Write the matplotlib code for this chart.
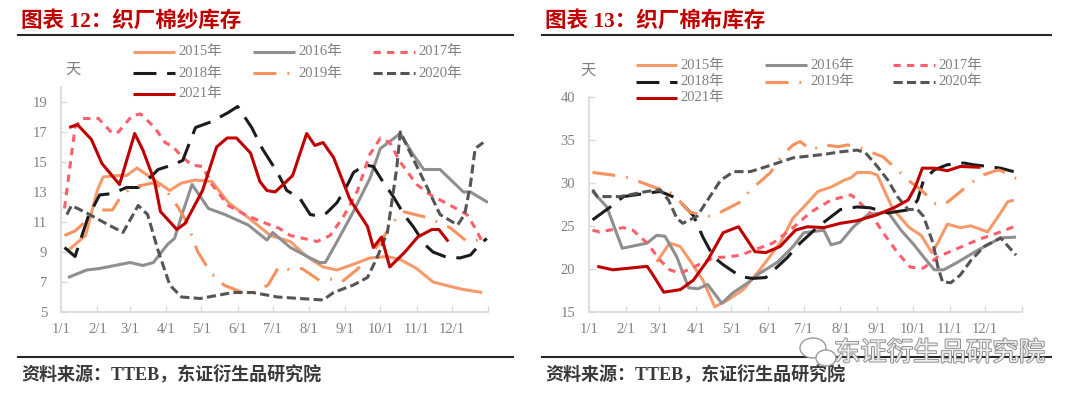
import matplotlib
matplotlib.use("Agg")
import matplotlib.pyplot as plt
import matplotlib.patheffects as pe
from matplotlib.lines import Line2D
from matplotlib.patches import Ellipse

plt.rcParams['font.family'] = ['Liberation Serif', 'Noto Sans CJK SC', 'DejaVu Sans']

# ---------------------------------------------------------------
# data: day of year (1/1 = 0) and inventory days
# ---------------------------------------------------------------
years = ['2015', '2016', '2017', '2018', '2019', '2020', '2021']
month_days = [0, 31, 59, 90, 120, 151, 181, 212, 243, 273, 304, 334]
month_labels = ['1/1', '2/1', '3/1', '4/1', '5/1', '6/1',
                '7/1', '8/1', '9/1', '10/1', '11/1', '12/1']

# chart 12: yarn inventory at weaving mills
yarn_2015_day = [6, 21, 25, 31, 36, 49, 56, 65, 78, 93, 103, 115, 129, 143, 160, 179, 196, 210,
                 224, 236, 247, 264, 279, 290, 304, 318, 333, 344, 360]
yarn_2015_val = [9.1, 10.1, 11.3, 13.1, 14.0, 14.1, 14.1, 14.6, 13.9, 13.1, 13.6, 13.8, 13.7, 12.3,
                 11.3, 10.1, 9.7, 8.7, 8.0, 7.8, 8.1, 8.6, 8.7, 8.5, 7.9, 7.0, 6.7, 6.5, 6.3]

yarn_2016_day = [6, 22, 33, 59, 70, 79, 91, 97, 103, 112, 126, 140, 160, 176, 181, 196, 213, 221,
                 226, 236, 250, 264, 273, 290, 301, 310, 324, 344, 350, 365]
yarn_2016_val = [7.3, 7.8, 7.9, 8.3, 8.1, 8.3, 9.5, 9.9, 11.4, 13.5, 11.9, 11.5, 10.8, 9.8, 10.3,
                 9.3, 8.6, 8.3, 8.3, 9.7, 11.7, 13.9, 15.9, 16.9, 15.5, 14.5, 14.5, 13.0, 13.0, 12.3]

yarn_2017_day = [3, 12, 18, 32, 44, 49, 61, 68, 80, 89, 96, 104, 112, 121, 129, 143, 157, 172,
                 186, 196, 219, 230, 241, 253, 264, 273, 281, 290, 304, 316, 333, 347, 354, 360]
yarn_2017_val = [11.9, 17.3, 17.9, 17.9, 16.9, 17.0, 18.1, 18.2, 17.3, 16.3, 16.0, 15.3, 14.8,
                 14.7, 13.5, 12.1, 11.5, 11.0, 10.6, 10.1, 9.7, 10.1, 11.3, 13.0, 15.5, 16.6,
                 16.3, 15.0, 13.5, 12.8, 12.1, 11.5, 10.6, 9.7]

yarn_2018_day = [3, 12, 23, 33, 44, 56, 66, 78, 83, 95, 104, 115, 129, 143, 151, 163, 172, 185,
                 193, 204, 213, 220, 227, 236, 245, 250, 260, 267, 275, 284, 294, 301, 311, 318,
                 328, 341, 350, 358, 364]
yarn_2018_val = [9.3, 8.7, 11.3, 12.8, 12.9, 13.3, 13.3, 14.1, 14.5, 14.8, 15.1, 17.3, 17.7,
                 18.3, 18.7, 17.3, 15.9, 14.3, 13.1, 12.6, 11.5, 11.4, 11.6, 12.3, 13.5, 14.3,
                 14.8, 14.7, 13.7, 12.7, 11.4, 10.7, 9.5, 9.0, 8.7, 8.6, 8.8, 9.5, 9.9]

yarn_2019_day = [3, 12, 32, 44, 52, 61, 78, 89, 100, 109, 112, 117, 129, 134, 139, 155, 162, 177,
                 186, 196, 206, 221, 232, 240, 254, 262, 274, 284, 292, 313, 322, 333, 347, 357]
yarn_2019_val = [10.1, 10.4, 11.8, 11.8, 12.8, 13.3, 13.6, 13.2, 12.0, 10.8, 10.0, 9.0, 7.5,
                 7.3, 6.8, 6.3, 6.2, 6.8, 8.0, 7.8, 7.9, 7.1, 7.2, 7.0, 7.9, 8.5, 9.8, 11.0,
                 11.7, 11.3, 11.0, 10.6, 9.7, 9.8]

yarn_2020_day = [5, 9, 22, 36, 53, 66, 74, 83, 93, 103, 119, 133, 147, 164, 185, 204, 224, 233,
                 250, 262, 270, 279, 287, 290, 298, 313, 324, 339, 345, 350, 354, 361]
yarn_2020_val = [11.5, 12.1, 11.6, 11.0, 10.3, 12.1, 11.5, 9.1, 6.8, 6.0, 5.9, 6.1, 6.3, 6.3,
                 6.0, 5.9, 5.8, 6.3, 6.8, 7.3, 8.6, 10.3, 14.6, 17.0, 15.7, 13.3, 11.5, 10.8,
                 11.5, 13.5, 15.9, 16.3]

yarn_2021_day = [7, 14, 26, 35, 50, 63, 70, 80, 85, 99, 106, 121, 133, 142, 150, 162, 170, 176,
                 183, 190, 198, 210, 217, 224, 233, 247, 262, 267, 274, 281, 294, 305, 317, 323, 331]
yarn_2021_val = [17.3, 17.5, 16.5, 14.9, 13.5, 16.9, 15.8, 13.7, 11.7, 10.5, 10.9, 13.1, 16.0,
                 16.6, 16.6, 15.6, 13.7, 13.1, 13.0, 13.5, 14.1, 16.9, 16.1, 16.3, 15.3, 12.5,
                 10.7, 9.3, 10.0, 8.0, 9.0, 10.0, 10.5, 10.5, 9.7]

# chart 13: grey cloth inventory at weaving mills
cloth_2015_day = [57, 68, 77, 85, 96, 106, 117, 130, 144, 161, 172, 181, 193, 204, 215, 221, 226,
                  237, 243, 256, 270, 280, 289, 294, 302, 313, 322, 336, 345, 353, 358]
cloth_2015_val = [20.8, 23.0, 22.6, 21.0, 18.7, 15.6, 16.4, 17.6, 19.9, 23.0, 25.9, 27.2, 29.0,
                  29.5, 30.3, 30.6, 31.2, 31.2, 30.9, 27.0, 24.8, 23.9, 21.9, 23.0, 25.2, 24.8,
                  25.0, 24.3, 26.1, 27.8, 28.0]

cloth_2016_day = [3, 15, 28, 49, 57, 64, 74, 84, 92, 100, 112, 121, 134, 144, 159, 172, 181, 198,
                  204, 212, 223, 235, 252, 263, 274, 282, 291, 299, 311, 328, 347, 360]
cloth_2016_val = [29.0, 27.2, 22.4, 23.0, 23.9, 23.8, 21.4, 17.8, 17.7, 18.2, 16.0, 17.2, 18.4,
                  19.5, 20.8, 22.6, 24.2, 24.5, 22.8, 23.1, 24.9, 26.3, 26.6, 24.5, 22.8, 21.4,
                  19.9, 19.9, 20.8, 22.2, 23.6, 23.7]

cloth_2017_day = [3, 9, 29, 37, 49, 60, 68, 77, 88, 105, 117, 128, 139, 155, 172, 187, 204, 221,
                  226, 237, 248, 260, 271, 282, 294, 311, 328, 345, 360]
cloth_2017_val = [24.5, 24.3, 24.8, 24.5, 23.0, 21.0, 19.9, 19.5, 20.2, 21.3, 21.4, 21.6, 22.2,
                  23.0, 24.8, 26.6, 28.0, 28.6, 28.0, 26.5, 24.2, 21.9, 20.2, 20.1, 21.4, 22.4,
                  23.4, 24.2, 25.0]

cloth_2018_day = [3, 18, 29, 49, 60, 74, 88, 96, 105, 113, 128, 138, 149, 167, 178, 193, 212, 226,
                  237, 252, 271, 277, 282, 291, 302, 316, 324, 336, 347, 358]
cloth_2018_val = [25.7, 27.2, 28.4, 28.8, 29.0, 28.2, 26.2, 23.7, 21.4, 20.5, 19.1, 18.9, 19.0,
                  21.3, 23.0, 24.9, 26.9, 27.2, 27.1, 26.5, 26.9, 28.0, 30.3, 31.5, 32.1, 32.3,
                  32.1, 31.9, 31.7, 31.3]

cloth_2019_day = [3, 20, 33, 43, 57, 66, 77, 85, 102, 111, 128, 136, 144, 153, 163, 172, 178, 187,
                  198, 210, 218, 226, 237, 248, 260, 269, 277, 286, 291, 299, 308, 322, 332, 345,
                  353, 360]
cloth_2019_val = [31.2, 30.9, 30.6, 30.1, 29.4, 29.2, 27.8, 26.6, 26.1, 26.6, 27.8, 29.2, 30.1,
                  31.2, 33.2, 34.4, 34.8, 33.8, 34.4, 34.2, 34.4, 34.2, 33.6, 33.0, 31.5, 30.3,
                  29.5, 28.4, 27.6, 27.4, 28.4, 30.0, 30.9, 31.5, 31.1, 30.5]

cloth_2020_day = [3, 7, 26, 49, 60, 67, 74, 79, 91, 100, 111, 122, 136, 150, 172, 198, 212, 226,
                  233, 243, 252, 260, 269, 277, 282, 290, 294, 298, 305, 313, 322, 333, 347, 360]
cloth_2020_val = [29.2, 28.4, 28.4, 29.0, 29.2, 28.0, 25.9, 25.3, 26.1, 28.0, 30.3, 31.3, 31.3,
                  31.9, 32.9, 33.3, 33.6, 33.8, 33.5, 31.9, 30.3, 28.4, 26.9, 26.9, 26.1, 23.0,
                  20.3, 18.5, 18.4, 19.3, 21.0, 22.6, 23.6, 21.6]

cloth_2021_day = [7, 20, 49, 53, 63, 77, 88, 100, 113, 126, 140, 149, 161, 174, 184, 198, 212,
                  226, 243, 257, 269, 275, 281, 291, 302, 313, 330]
cloth_2021_val = [20.3, 19.9, 20.3, 19.5, 17.3, 17.6, 18.7, 21.0, 24.2, 24.9, 22.0, 21.9, 22.6,
                  24.5, 24.9, 24.8, 25.3, 25.6, 26.3, 27.1, 28.0, 29.5, 31.7, 31.7, 31.4, 31.9,
                  31.8]

# ---------------------------------------------------------------
# styles
# ---------------------------------------------------------------
LW = 2.2
STYLE = {
    '2015': dict(color='#F79A6B', dashes=()),
    '2016': dict(color='#8F8F8F', dashes=()),
    '2017': dict(color='#FF5F6B', dashes=(2.4, 2.0)),
    '2018': dict(color='#1C1C1C', dashes=(7.5, 3.5)),
    '2019': dict(color='#F7925E', dashes=(7.5, 3.6, 0.6, 3.6)),
    '2020': dict(color='#555555', dashes=(3.0, 1.4)),
    '2021': dict(color='#C00000', dashes=()),
}
AXIS_GREY = '#D9D9D9'
TEXT_GREY = '#808080'
TITLE_RED = '#C00000'

W, H = 1080, 398


def fx(px):
    return px / W


def fy(py):
    return 1 - py / H


def style_kw(year):
    s = STYLE[year]
    kw = dict(color=s['color'], lw=LW, solid_joinstyle='round', solid_capstyle='butt')
    if s['dashes']:
        kw['dashes'] = s['dashes']
    return kw


def draw_panel(ax, series, ylim, yticks):
    for year, (days, vals) in zip(years, series):
        ax.plot(days, vals, **style_kw(year))
    ax.set_xlim(0, 365)
    ax.set_ylim(*ylim)
    ax.set_yticks(yticks)
    ax.set_xticks(month_days + [365])
    ax.set_xticklabels(month_labels + [''])
    for side in ['top', 'right']:
        ax.spines[side].set_visible(False)
    for side in ['left', 'bottom']:
        ax.spines[side].set_color(AXIS_GREY)
        ax.spines[side].set_linewidth(1.2)
    ax.tick_params(direction='in', length=4, width=1, color=AXIS_GREY,
                   labelcolor=TEXT_GREY, labelsize=10.5, pad=10)
    ax.tick_params(axis='x', pad=8)
    ax.patch.set_alpha(0)


def draw_legend(fig, cols, rows):
    for i, year in enumerate(years):
        x0, x1 = cols[i % 3]
        y = rows[i // 3]
        fig.add_artist(Line2D([fx(x0), fx(x1)], [fy(y), fy(y)],
                              transform=fig.transFigure, **style_kw(year)))
        fig.text(fx(x1 + 3), fy(y), year + '年', fontsize=10.5, color=TEXT_GREY,
                 va='center', ha='left')


def draw_frame(fig, x0, x1, title):
    fig.text(fx(x0 + 3), fy(22), title, fontsize=15.5, fontweight='bold',
             color=TITLE_RED, va='center', ha='left')
    for y in [35, 357]:
        fig.add_artist(Line2D([fx(x0), fx(x1)], [fy(y), fy(y)],
                              transform=fig.transFigure, color='#262626', lw=1.5))
    fig.text(fx(x0 + 3), fy(375), '资料来源：TTEB，东证衍生品研究院', fontsize=13,
             fontweight='bold', color='#3A3A3A', va='center', ha='left')


fig = plt.figure(figsize=(W / 100, H / 100), dpi=100)

# chart 12
ax1 = fig.add_axes([fx(61), fy(312), (488 - 61) / W, (312 - 87) / H])
yarn = [(yarn_2015_day, yarn_2015_val), (yarn_2016_day, yarn_2016_val),
        (yarn_2017_day, yarn_2017_val), (yarn_2018_day, yarn_2018_val),
        (yarn_2019_day, yarn_2019_val), (yarn_2020_day, yarn_2020_val),
        (yarn_2021_day, yarn_2021_val)]
draw_panel(ax1, yarn, (5, 20), [5, 7, 9, 11, 13, 15, 17, 19])
draw_frame(fig, 18, 513, '图表 12：织厂棉纱库存')
draw_legend(fig, [(133, 175), (253, 295), (373, 415)], [52, 73, 94])
fig.text(fx(65), fy(70), '天', fontsize=11, color=TEXT_GREY, va='center', ha='left')

# chart 13
ax2 = fig.add_axes([fx(589), fy(312), (1022 - 589) / W, (312 - 96.7) / H])
cloth = [(cloth_2015_day, cloth_2015_val), (cloth_2016_day, cloth_2016_val),
         (cloth_2017_day, cloth_2017_val), (cloth_2018_day, cloth_2018_val),
         (cloth_2019_day, cloth_2019_val), (cloth_2020_day, cloth_2020_val),
         (cloth_2021_day, cloth_2021_val)]
draw_panel(ax2, cloth, (15, 40), [15, 20, 25, 30, 35, 40])
draw_frame(fig, 542, 1051, '图表 13：织厂棉布库存')
draw_legend(fig, [(636, 677), (765, 807), (893, 935)], [65, 82, 98])
fig.text(fx(580), fy(71), '天', fontsize=11, color=TEXT_GREY, va='center', ha='left')

# watermark
for (cx, cy, w, h) in [(813, 348, 26, 20), (826, 358, 20, 16)]:
    fig.add_artist(Ellipse((fx(cx), fy(cy)), w / W, h / H, transform=fig.transFigure,
                           facecolor='white', edgecolor='#9A9A9A', lw=1.0, zorder=4))
fig.text(fx(834), fy(353), '东证衍生品研究院', fontsize=19, color='#EDEDED',
         family='Noto Sans CJK SC', va='center', ha='left', zorder=5,
         path_effects=[pe.withStroke(linewidth=1.3, foreground='#8A8A8A')])

fig.savefig('out.png', dpi=100)
